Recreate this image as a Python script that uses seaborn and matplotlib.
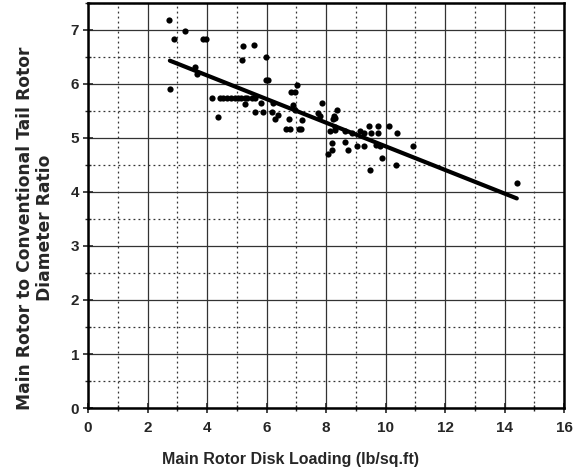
import matplotlib
matplotlib.use("Agg")
import matplotlib.pyplot as plt
import seaborn as sns
import pandas as pd
from matplotlib.ticker import MultipleLocator

disk_loading = [2.73, 2.90, 3.27, 3.88, 3.97, 2.77, 3.61, 3.67,
                4.18, 4.44, 4.55, 4.68, 4.81, 4.94, 5.03, 5.14, 5.28, 5.33, 5.50, 5.61,
                4.36, 5.20, 5.58, 5.19, 5.98, 5.98, 6.06, 5.28,
                5.61, 5.87, 5.82, 6.20, 6.17, 6.30, 6.40,
                6.66, 6.79, 6.77, 6.82, 6.95, 7.01, 6.90, 6.96, 7.09, 7.16, 7.18,
                7.85, 7.74, 7.80,
                8.38, 8.25, 8.30, 8.22, 8.30, 8.30, 8.13, 8.21, 8.21, 8.06,
                8.62, 8.64, 8.72, 8.88, 9.14, 9.29, 9.45, 9.50, 9.03, 9.28, 9.48,
                9.76, 9.76, 9.68, 9.82, 9.87, 10.10, 10.40, 10.34, 10.93, 14.43]
diameter_ratio = [7.19, 6.83, 6.97, 6.84, 6.84, 5.90, 6.31, 6.18,
                  5.73, 5.73, 5.73, 5.73, 5.73, 5.73, 5.73, 5.73, 5.73, 5.73, 5.73, 5.73,
                  5.38, 6.70, 6.72, 6.44, 6.49, 6.07, 6.07, 5.62,
                  5.48, 5.48, 5.64, 5.64, 5.48, 5.35, 5.42,
                  5.17, 5.17, 5.35, 5.85, 5.85, 5.98, 5.60, 5.52, 5.17, 5.17, 5.34,
                  5.65, 5.46, 5.40,
                  5.51, 5.41, 5.36, 5.35, 5.21, 5.15, 5.12, 4.91, 4.78, 4.70,
                  5.12, 4.93, 4.78, 5.09, 5.12, 5.09, 5.22, 5.10, 4.85, 4.85, 4.41,
                  5.22, 5.09, 4.87, 4.85, 4.62, 5.22, 5.09, 4.49, 4.85, 4.16]

trend_x = [2.75, 14.41]
trend_y = [6.43, 3.88]

x_ticks = [0, 2, 4, 6, 8, 10, 12, 14, 16]
y_ticks = [0, 1, 2, 3, 4, 5, 6, 7]

sns.set_style("white")
plt.rcParams['font.family'] = ['Liberation Sans', 'DejaVu Sans']

fig = plt.figure(figsize=(5.87, 4.75), dpi=100)
ax = fig.add_axes([0.150, 0.141, 0.811, 0.853])

pts = pd.DataFrame({"x": disk_loading, "y": diameter_ratio})
trend = pd.DataFrame({"x": trend_x, "y": trend_y})

sns.scatterplot(data=pts, x="x", y="y", ax=ax, color="black", s=20,
                edgecolor="black", linewidth=0, zorder=3)
sns.lineplot(data=trend, x="x", y="y", ax=ax, color="black", linewidth=3,
             zorder=4)

ax.set_xlim(0, 16)
ax.set_ylim(0, 7.5)
ax.set_xticks(x_ticks)
ax.set_yticks(y_ticks)
ax.xaxis.set_minor_locator(MultipleLocator(1))
ax.yaxis.set_minor_locator(MultipleLocator(0.5))

ax.grid(which="major", color="#333333", linewidth=0.9, linestyle="-")
ax.grid(which="minor", color="#333333", linewidth=0.9, linestyle=(0, (1.5, 2.5)))
ax.set_axisbelow(True)

for sp in ax.spines.values():
    sp.set_visible(True)
    sp.set_color("black")
    sp.set_linewidth(1.8)

ax.tick_params(which="major", direction="inout", length=7, width=1.2,
               labelsize=11, bottom=True, left=True)
ax.tick_params(axis="x", which="major", pad=6)
ax.tick_params(axis="y", which="major", pad=3)
ax.tick_params(which="minor", direction="inout", length=5, width=1.0,
               bottom=True, left=True)
for lbl in ax.get_xticklabels() + ax.get_yticklabels():
    lbl.set_fontweight("bold")

ax.set_xlabel("Main Rotor Disk Loading (lb/sq.ft)", fontsize=11.5,
              fontweight="bold")
ax.xaxis.set_label_coords(0.426, -0.108)
ax.set_ylabel("Main Rotor to Conventional Tail Rotor\nDiameter Ratio",
              fontsize=12.3, fontweight="bold",
              family=['DejaVu Sans'], linespacing=1.15)
ax.yaxis.set_label_coords(-0.072, 0.444)

fig.savefig("out.png", dpi=100)
